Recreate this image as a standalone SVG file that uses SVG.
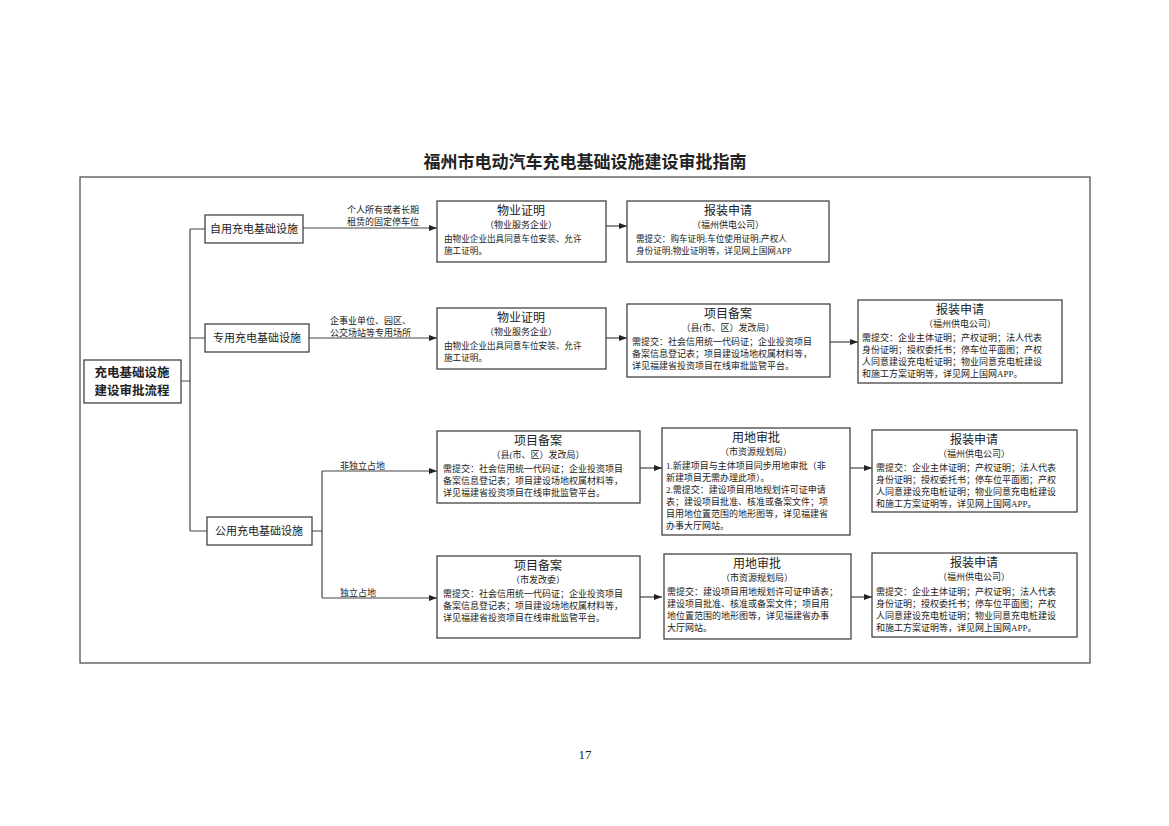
<svg xmlns="http://www.w3.org/2000/svg" width="1169" height="826" viewBox="0 0 1169 826">
<defs>
<marker id="ah" markerWidth="8" markerHeight="6" refX="8" refY="3" orient="auto" markerUnits="userSpaceOnUse"><path d="M0,0 L8,3 L0,6 z" fill="#222"/></marker>
<style>
text{font-family:"Liberation Serif","Noto Sans CJK SC",serif;fill:#222}
.b{fill:#fff;stroke:#444;stroke-width:1.3}
.l{fill:none;stroke:#444;stroke-width:1.2}
.a{fill:none;stroke:#444;stroke-width:1.2;marker-end:url(#ah)}
.h{font-size:12px;text-anchor:middle}
.s{font-size:9px;text-anchor:middle}
.t{font-size:9px}
.p{font-size:8.6px}
.n{font-size:11px;text-anchor:middle}
.lb{font-size:9px}
</style>
</defs>
<rect width="1169" height="826" fill="#fff"/>
<text x="585" y="168" font-size="17" font-weight="bold" text-anchor="middle">福州市电动汽车充电基础设施建设审批指南</text>
<rect x="80" y="177" width="1010" height="486" fill="none" stroke="#444" stroke-width="1.2"/>
<g id="connectors">
<path class="l" d="M181,381 H190 M190,229 V531 M190,229 H205 M190,338 H205 M190,531 H207 M312,531 H322 M322,471 V598"/>
<path class="a" d="M303,228 H437"/>
<path class="a" d="M309,338 H437"/>
<path class="a" d="M322,471 H437"/>
<path class="a" d="M322,598 H437"/>
<path class="a" d="M606,226 H627"/>
<path class="a" d="M606,338 H627"/>
<path class="a" d="M830,342 H858"/>
<path class="a" d="M640,468 H662"/>
<path class="a" d="M850,468 H872"/>
<path class="a" d="M640,597 H662"/>
<path class="a" d="M851,597 H872"/>
<text class="lb" x="383" y="213" text-anchor="middle">个人所有或者长期</text>
<text class="lb" x="383" y="225" text-anchor="middle">租赁的固定停车位</text>
<text class="lb" x="330" y="324">企事业单位、园区、</text>
<text class="lb" x="330" y="336">公交场站等专用场所</text>
<text class="lb" x="340" y="469">非独立占地</text>
<text class="lb" x="340" y="596">独立占地</text>
</g>
<g id="root"><rect class="b" x="84" y="360" width="97" height="43"/>
<text x="132" y="377" font-size="12.5" font-weight="bold" text-anchor="middle">充电基础设施</text>
<text x="132" y="395" font-size="12.5" font-weight="bold" text-anchor="middle">建设审批流程</text></g>
<g id="n-ziyong"><rect class="b" x="205" y="215" width="98" height="28"/><text class="n" x="254" y="233">自用充电基础设施</text></g>
<g id="n-zhuanyong"><rect class="b" x="205" y="324" width="104" height="28"/><text class="n" x="257" y="342">专用充电基础设施</text></g>
<g id="n-gongyong"><rect class="b" x="207" y="517" width="105" height="28"/><text class="n" x="259" y="535">公用充电基础设施</text></g>

<g id="r1a"><rect class="b" x="437" y="201" width="169" height="61"/>
<text class="h" x="521" y="215">物业证明</text><text class="s" x="521" y="228">（物业服务企业）</text>
<text class="p" x="444" y="242">由物业企业出具同意车位安装、允许</text><text class="p" x="444" y="254">施工证明。</text></g>
<g id="r1b"><rect class="b" x="627" y="201" width="202" height="61"/>
<text class="h" x="728" y="215">报装申请</text><text class="s" x="728" y="228">（福州供电公司）</text>
<text class="p" x="636" y="242">需提交：购车证明;车位使用证明;产权人</text><text class="p" x="636" y="254">身份证明;物业证明等，详见网上国网APP</text></g>

<g id="r2a"><rect class="b" x="437" y="308" width="169" height="61"/>
<text class="h" x="521" y="322">物业证明</text><text class="s" x="521" y="335">（物业服务企业）</text>
<text class="p" x="444" y="349">由物业企业出具同意车位安装、允许</text><text class="p" x="444" y="361">施工证明。</text></g>
<g id="r2b"><rect class="b" x="627" y="304" width="203" height="73"/>
<text class="h" x="728" y="318">项目备案</text><text class="s" x="728" y="331">（县(市、区）发改局）</text>
<text class="t" x="632" y="345">需提交：社会信用统一代码证；企业投资项目</text><text class="t" x="632" y="357">备案信息登记表；项目建设场地权属材料等，</text><text class="t" x="632" y="369">详见福建省投资项目在线审批监管平台。</text></g>
<g id="r2c"><rect class="b" x="858" y="300" width="204" height="83"/>
<text class="h" x="960" y="314">报装申请</text><text class="s" x="960" y="327">（福州供电公司）</text>
<text class="t" x="862" y="341">需提交：企业主体证明；产权证明；法人代表</text><text class="t" x="862" y="353">身份证明；授权委托书；停车位平面图；产权</text><text class="t" x="862" y="365">人同意建设充电桩证明；物业同意充电桩建设</text><text class="t" x="862" y="377">和施工方案证明等，详见网上国网APP。</text></g>

<g id="r3a"><rect class="b" x="437" y="431" width="203" height="72"/>
<text class="h" x="538" y="445">项目备案</text><text class="s" x="538" y="458">（县(市、区）发改局）</text>
<text class="t" x="443" y="472">需提交：社会信用统一代码证；企业投资项目</text><text class="t" x="443" y="484">备案信息登记表；项目建设场地权属材料等，</text><text class="t" x="443" y="496">详见福建省投资项目在线审批监管平台。</text></g>
<g id="r3b"><rect class="b" x="662" y="428" width="188" height="107"/>
<text class="h" x="756" y="442">用地审批</text><text class="s" x="756" y="455">（市资源规划局）</text>
<text class="t" x="666" y="469">1.新建项目与主体项目同步用地审批（非</text><text class="t" x="666" y="481">新建项目无需办理此项）。</text><text class="t" x="666" y="493">2.需提交：建设项目用地规划许可证申请</text><text class="t" x="666" y="505">表；建设项目批准、核准或备案文件；项</text><text class="t" x="666" y="517">目用地位置范围的地形图等，详见福建省</text><text class="t" x="666" y="529">办事大厅网站。</text></g>
<g id="r3c"><rect class="b" x="872" y="430" width="205" height="82"/>
<text class="h" x="974" y="444">报装申请</text><text class="s" x="974" y="457">（福州供电公司）</text>
<text class="t" x="876" y="471">需提交：企业主体证明；产权证明；法人代表</text><text class="t" x="876" y="483">身份证明；授权委托书；停车位平面图；产权</text><text class="t" x="876" y="495">人同意建设充电桩证明；物业同意充电桩建设</text><text class="t" x="876" y="507">和施工方案证明等，详见网上国网APP。</text></g>

<g id="r4a"><rect class="b" x="437" y="556" width="203" height="82"/>
<text class="h" x="538" y="570">项目备案</text><text class="s" x="538" y="583">（市发改委）</text>
<text class="t" x="443" y="597">需提交：社会信用统一代码证；企业投资项目</text><text class="t" x="443" y="609">备案信息登记表；项目建设场地权属材料等，</text><text class="t" x="443" y="621">详见福建省投资项目在线审批监管平台。</text></g>
<g id="r4b"><rect class="b" x="664" y="554" width="187" height="85"/>
<text class="h" x="757" y="568">用地审批</text><text class="s" x="757" y="581">（市资源规划局）</text>
<text class="t" x="667" y="595">需提交：建设项目用地规划许可证申请表；</text><text class="t" x="667" y="607">建设项目批准、核准或备案文件；项目用</text><text class="t" x="667" y="619">地位置范围的地形图等，详见福建省办事</text><text class="t" x="667" y="631">大厅网站。</text></g>
<g id="r4c"><rect class="b" x="872" y="553" width="205" height="84"/>
<text class="h" x="974" y="567">报装申请</text><text class="s" x="974" y="580">（福州供电公司）</text>
<text class="t" x="876" y="595">需提交：企业主体证明；产权证明；法人代表</text><text class="t" x="876" y="607">身份证明；授权委托书；停车位平面图；产权</text><text class="t" x="876" y="619">人同意建设充电桩证明；物业同意充电桩建设</text><text class="t" x="876" y="631">和施工方案证明等，详见网上国网APP。</text></g>
<text x="585" y="759" font-size="13" text-anchor="middle">17</text>
</svg>
